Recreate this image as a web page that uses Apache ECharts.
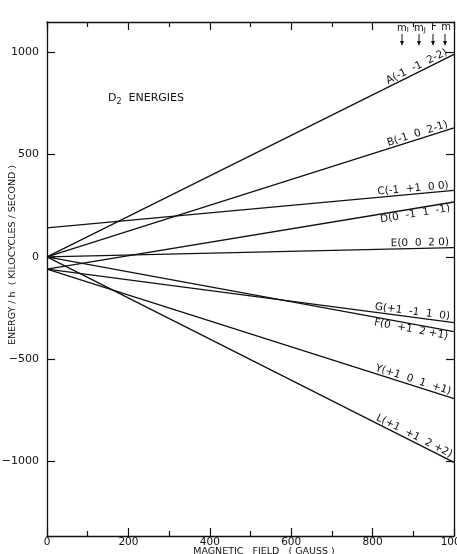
<!DOCTYPE html>
<html><head><meta charset="utf-8">
<script src="https://cdn.jsdelivr.net/npm/echarts@6/dist/echarts.min.js"></script>
<style>html,body{margin:0;padding:0;background:#fff}#c{width:457px;height:554px}</style>
</head><body><div id="c"></div>
<script>
// Magnetic field (gauss) at which each level is given
const fieldGauss = [0, 1000];
// Level names and their (mI mJ F m) labels
const levelNames = ['A','B','C','D','E','G','F','Y','L'];
const levelLabels = ['A(-1  -1  2-2)','B(-1  0  2-1)','C(-1  +1  0 0)','D(0  -1  1  -1)','E(0  0  2 0)','G(+1  -1  1  0)','F(0  +1  2 +1)','Y(+1  0  1  +1)','L(+1  +1  2 +2)'];
// Energy / h (kc/s) at 0 gauss and at 1000 gauss
const energyA = [0, 990];
const energyB = [0, 630];
const energyC = [141, 325];
const energyD = [-60, 268];
const energyE = [0, 45];
const energyG = [-60, -322];
const energyF = [0, -366];
const energyY = [-60, -693];
const energyL = [0, -1005];
const energies = [energyA, energyB, energyC, energyD, energyE, energyG, energyF, energyY, energyL];
const labelBelow = [false,false,false,true,false,false,true,false,false];
const yTickValues = [-1000, -500, 0, 500, 1000];
const xAxisTitle = 'MAGNETIC   FIELD   ( GAUSS )';
const yAxisTitle = 'ENERGY / h  ( KILOCYCLES / SECOND )';

const chart = echarts.init(document.getElementById('c'));
const font = 'DejaVu Sans';
const series = levelNames.map((n, i) => ({
  name: n, type: 'line', symbol: 'none', animation: false, xAxisIndex: 0, yAxisIndex: 0,
  lineStyle: {color: '#111', width: 1.3},
  data: fieldGauss.map((g, k) => [g, energies[i][k]])
}));
chart.setOption({
  animation: false,
  grid: {left: 47, right: 3, top: 22, bottom: 18, containLabel: false, outerBoundsMode: 'none'},
  xAxis: [{
    type: 'value', min: 0, max: 1000, interval: 200, position: 'bottom',
    axisLine: {onZero: false, lineStyle: {color: '#111', width: 1.3}},
    axisTick: {inside: true, length: 8, lineStyle: {color: '#111', width: 1.2}},
    minorTick: {show: true, splitNumber: 2, length: 5, lineStyle: {color: '#111', width: 1.2}},
    splitLine: {show: false},
    axisLabel: {color: '#111', fontFamily: font, fontSize: 10.5, margin: 1, formatter: v => String(v)}
  }, {
    type: 'value', min: 0, max: 1000, interval: 200, position: 'top',
    axisLine: {onZero: false, lineStyle: {color: '#111', width: 1.3}},
    axisTick: {inside: true, length: 8, lineStyle: {color: '#111', width: 1.2}},
    minorTick: {show: true, splitNumber: 2, length: 5, lineStyle: {color: '#111', width: 1.2}},
    splitLine: {show: false}, axisLabel: {show: false}
  }],
  yAxis: [{
    type: 'value', min: -1365, max: 1148, position: 'left',
    axisLine: {show: true, onZero: false, lineStyle: {color: '#111', width: 1.3}},
    axisTick: {show: true, inside: true, length: 8, customValues: yTickValues, lineStyle: {color: '#111', width: 1.2}},
    splitLine: {show: false},
    axisLabel: {customValues: yTickValues, color: '#111', fontFamily: font, fontSize: 11, margin: 8,
      formatter: v => String(v).replace('-', '\u2212')}
  }, {
    type: 'value', min: -1365, max: 1148, position: 'right',
    axisLine: {show: true, onZero: false, lineStyle: {color: '#111', width: 1.3}},
    axisTick: {show: true, inside: true, length: 8, customValues: yTickValues, lineStyle: {color: '#111', width: 1.2}},
    splitLine: {show: false}, axisLabel: {show: false}
  }],
  series: series
});

// Labels along each level line, rotated with it
const graphics = [];
levelLabels.forEach((txt, i) => {
  const e = energies[i];
  const p0 = chart.convertToPixel({xAxisIndex: 0, yAxisIndex: 0}, [fieldGauss[0], e[0]]);
  const p1 = chart.convertToPixel({xAxisIndex: 0, yAxisIndex: 0}, [fieldGauss[1], e[1]]);
  const ang = Math.atan2(-(p1[1] - p0[1]), p1[0] - p0[0]);
  const g = 988;
  const v = e[0] + (e[1] - e[0]) * (g - fieldGauss[0]) / (fieldGauss[1] - fieldGauss[0]);
  const p = chart.convertToPixel({xAxisIndex: 0, yAxisIndex: 0}, [g, v]);
  graphics.push({
    type: 'text', x: p[0], y: p[1], rotation: ang,
    style: {text: txt, fill: '#111', font: '10.5px "DejaVu Sans"', align: 'right',
      verticalAlign: labelBelow[i] ? 'top' : 'bottom'},
    originX: 0, originY: 0
  });
});
graphics.push({type: 'text', left: 108, top: 93,
  style: {text: '{a|D}{s|2}{a|  ENERGIES}', fill: '#111',
    rich: {a: {fontFamily: font, fontSize: 11, fill: '#111'}, s: {fontFamily: font, fontSize: 8, fill: '#111', verticalAlign: 'bottom', padding: [6,0,0,0]}}}});
// axis titles
graphics.push({type: 'text', x: 264, y: 552, style: {text: xAxisTitle, fill: '#111', font: '9.5px "DejaVu Sans"', align: 'center', verticalAlign: 'middle'}});
graphics.push({type: 'text', x: 13, y: 255, rotation: Math.PI / 2,
  style: {text: yAxisTitle, fill: '#111', font: '9.5px "DejaVu Sans"', align: 'center', verticalAlign: 'middle'}});
// quantum number header with arrows
const hdr = [['m', 'I', 403], ['m', 'J', 420], ['F', '', 434], ['m', '', 446]];
hdr.forEach(h => {
  graphics.push({type: 'text', x: h[2], y: 22, style: {text: h[1] ? '{a|' + h[0] + '}{s|' + h[1] + '}' : h[0],
    font: '10px "DejaVu Sans"', fill: '#111', align: 'center', verticalAlign: 'top',
    rich: {a: {fontFamily: font, fontSize: 10, fill: '#111'}, s: {fontFamily: font, fontSize: 7, fill: '#111', padding: [5,0,0,0]}}}});
  graphics.push({type: 'line', shape: {x1: h[2] - 1, y1: 34, x2: h[2] - 1, y2: 44}, style: {stroke: '#111', lineWidth: 1}});
  graphics.push({type: 'polygon', shape: {points: [[h[2] - 3, 41], [h[2] + 1, 41], [h[2] - 1, 46]]}, style: {fill: '#111'}});
});
chart.setOption({graphic: graphics});
</script></body></html>
